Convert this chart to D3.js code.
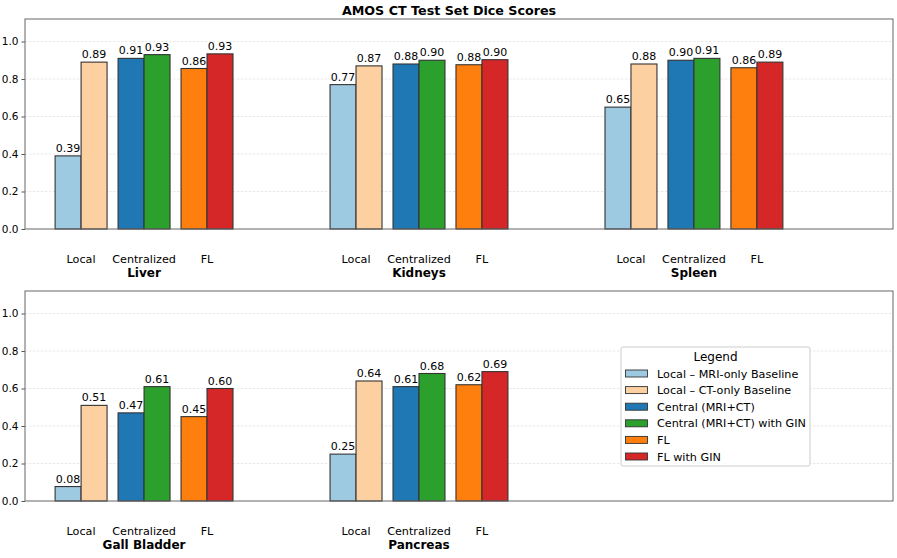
<!DOCTYPE html>
<html>
<head>
<meta charset="utf-8">
<script src="https://cdn.jsdelivr.net/npm/d3@7"></script>
<style>
  body { margin: 0; background: #fff; }
  svg { font-family: "DejaVu Sans", sans-serif; }
</style>
</head>
<body>
<div id="chart"></div>
<script>
// Organs per panel
var topOrgans = ["Liver", "Kidneys", "Spleen"];
var bottomOrgans = ["Gall Bladder", "Pancreas"];

// Series names and colours (legend order)
var seriesNames = ["Local – MRI-only Baseline", "Local – CT-only Baseline", "Central (MRI+CT)",
                   "Central (MRI+CT) with GIN", "FL", "FL with GIN"];
var seriesColors = ["#9ecae1", "#fdd0a2", "#1f77b4", "#2ca02c", "#ff7f0e", "#d62728"];

// Dice scores, one array per organ, in series order
var liver = [0.39, 0.89, 0.91, 0.93, 0.856, 0.934];
var kidneys = [0.77, 0.87, 0.88, 0.90, 0.876, 0.903];
var spleen = [0.65, 0.88, 0.90, 0.91, 0.86, 0.89];
var gallBladder = [0.077, 0.51, 0.47, 0.61, 0.45, 0.60];
var pancreas = [0.25, 0.64, 0.61, 0.68, 0.62, 0.69];

var groupLabels = ["Local", "Centralized", "FL"];
var yTicks = [0.0, 0.2, 0.4, 0.6, 0.8, 1.0];

var topValues = [liver, kidneys, spleen];
var bottomValues = [gallBladder, pancreas];

var width = 897, height = 558;
var svg = d3.select("#chart").append("svg")
    .attr("width", width)
    .attr("height", height);

// Figure title
svg.append("text")
   .attr("x", 449)
   .attr("y", 15)
   .attr("text-anchor", "middle")
   .attr("font-size", "12.7px")
   .attr("font-weight", "bold")
   .text("AMOS CT Test Set Dice Scores");

// x scale in organ units; each organ has three subgroups of two bars
var xScale = d3.scaleLinear().domain([-0.433, 2.724]).range([25, 893]);
var subOffset = 0.229;   // Local / Centralized / FL distance from organ centre
var barW = 0.0945;

function barX(organIdx, s) {
    var sub = Math.floor(s / 2) - 1;
    var centre = organIdx + sub * subOffset;
    return s % 2 === 0 ? centre - barW : centre;
}

function drawPanel(top, bottom, organs, values) {
    var yScale = d3.scaleLinear().domain([0, 1.12]).range([bottom, top]);
    var g = svg.append("g");

    // grid
    g.selectAll("line.grid")
     .data(yTicks.slice(1))
     .enter().append("line")
     .attr("class", "grid")
     .attr("x1", 25).attr("x2", 893)
     .attr("y1", function(d) { return yScale(d); })
     .attr("y2", function(d) { return yScale(d); })
     .attr("stroke", "#e0e0e0")
     .attr("stroke-width", 0.7)
     .attr("stroke-dasharray", "2.5,1.5");

    // bars
    organs.forEach(function(org, i) {
        var vals = values[i];
        var bars = g.selectAll("rect.o" + i)
            .data(vals)
            .enter();
        bars.append("rect")
            .attr("x", function(d, s) { return xScale(barX(i, s)); })
            .attr("y", function(d) { return yScale(d); })
            .attr("width", xScale(barW) - xScale(0))
            .attr("height", function(d) { return bottom - yScale(d); })
            .attr("fill", function(d, s) { return seriesColors[s]; })
            .attr("stroke", "#333")
            .attr("stroke-width", 1.1);
        bars.append("text")
            .attr("x", function(d, s) { return xScale(barX(i, s) + barW / 2); })
            .attr("y", function(d) { return yScale(d) - 4; })
            .attr("text-anchor", "middle")
            .attr("font-size", "11px")
            .text(function(d) { return d.toFixed(2); });

        // subgroup tick labels
        groupLabels.forEach(function(lbl, k) {
            g.append("text")
             .attr("x", xScale(i + (k - 1) * subOffset))
             .attr("y", bottom + 34)
             .attr("text-anchor", "middle")
             .attr("font-size", "11.2px")
             .text(lbl);
        });
        g.append("text")
         .attr("x", xScale(i))
         .attr("y", bottom + 48)
         .attr("text-anchor", "middle")
         .attr("font-size", "12px")
         .attr("font-weight", "bold")
         .text(org);
    });

    // y axis
    var yAxis = g.append("g")
        .attr("transform", "translate(25,0)")
        .call(d3.axisLeft(yScale).tickValues(yTicks).tickFormat(d3.format(".1f")).tickSize(3.5).tickPadding(3));
    yAxis.select(".domain").remove();
    yAxis.selectAll("line").attr("stroke", "#555");
    yAxis.selectAll("text").attr("font-size", "10.5px").attr("fill", "#000")
         .attr("font-family", "DejaVu Sans, sans-serif");

    // frame
    g.append("rect")
     .attr("x", 25).attr("y", top)
     .attr("width", 868).attr("height", bottom - top)
     .attr("fill", "none")
     .attr("stroke", "#666")
     .attr("stroke-width", 1);
    return yScale;
}

drawPanel(19, 229, topOrgans, topValues);
drawPanel(291, 501, bottomOrgans, bottomValues);

// Legend
var lg = svg.append("g").attr("transform", "translate(621,347)");
lg.append("rect")
  .attr("width", 189).attr("height", 119)
  .attr("rx", 2)
  .attr("fill", "#fff").attr("fill-opacity", 0.85)
  .attr("stroke", "#ccc");
lg.append("text")
  .attr("x", 94.5).attr("y", 14)
  .attr("text-anchor", "middle")
  .attr("font-size", "12px")
  .text("Legend");
seriesNames.forEach(function(name, s) {
    var cy = 26.5 + s * 16.6;
    lg.append("rect")
      .attr("x", 4.5).attr("y", cy - 3.5)
      .attr("width", 22).attr("height", 7)
      .attr("fill", seriesColors[s])
      .attr("stroke", "#333").attr("stroke-width", 0.9);
    lg.append("text")
      .attr("x", 36).attr("y", cy + 4)
      .attr("font-size", "11.2px")
      .text(name);
});
</script>
</body>
</html>
